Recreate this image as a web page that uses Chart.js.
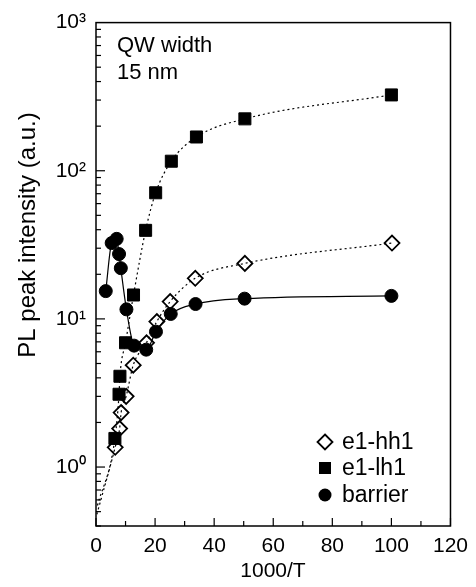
<!DOCTYPE html>
<html>
<head>
<meta charset="utf-8">
<script src="https://cdn.jsdelivr.net/npm/chart.js@4/dist/chart.umd.min.js"></script>
<style>
  html, body { margin: 0; padding: 0; background: #fff; }
  #wrap { width: 476px; height: 587px; }
</style>
</head>
<body>
<div id="wrap"><canvas id="plChart" width="476" height="587"></canvas></div>
<script>
// valores (1000/T contra intensidade PL)
const lhX = [6.4, 7.8, 8.1, 10.0, 12.7, 16.8, 20.2, 25.5, 34.0, 50.4, 100];
const lhY = [1.56, 3.1, 4.1, 6.9, 14.5, 39.6, 71, 116, 169, 224, 325];
const hhX = [6.5, 8.0, 8.5, 10.2, 12.6, 17.1, 20.6, 25.1, 33.6, 50.4, 100.2];
const hhY = [1.36, 1.82, 2.33, 3.0, 4.87, 6.9, 9.6, 13.1, 18.8, 23.7, 32.5];
const barX = [3.3, 5.3, 7.0, 7.8, 8.4, 10.3, 12.9, 17.0, 20.3, 25.3, 33.7, 50.3, 100];
const barY = [15.4, 32.5, 34.7, 27.4, 22.0, 11.6, 6.6, 6.2, 8.2, 10.8, 12.6, 13.7, 14.3];

// início das curvas ajustadas perto da origem
const lhFitStart = [0.5, 0.55];
const hhFitStart = [0.3, 0.48];

const xTicks = [0, 20, 40, 60, 80, 100, 120];
const yDecades = [1, 10, 100, 1000];
const yLabels = ['10\u2070', '10\u00B9', '10\u00B2', '10\u00B3'];

const legendNames = ['e1-hh1', 'e1-lh1', 'barrier'];

function toPoints(xs, ys) {
    return xs.map((x, i) => ({ x: x, y: ys[i] }));
}

const FONT = '"Liberation Sans", Arial, Helvetica, sans-serif';

// Molduras, marcas internas e textos
const framePlugin = {
    id: 'frame',
    afterDraw(chart) {
        const ctx = chart.ctx;
        const a = chart.chartArea;
        const xs = chart.scales.x;
        const ys = chart.scales.y;
        ctx.save();
        ctx.strokeStyle = '#000';
        ctx.lineWidth = 1.5;
        ctx.strokeRect(a.left, a.top, a.right - a.left, a.bottom - a.top);

        // marcas do eixo x
        ctx.lineWidth = 1.2;
        for (let v = 0; v <= 120; v += 10) {
            const px = xs.getPixelForValue(v);
            const len = v % 20 === 0 ? 8 : 5;
            ctx.beginPath();
            ctx.moveTo(px, a.bottom);
            ctx.lineTo(px, a.bottom - len);
            ctx.stroke();
        }
        // marcas do eixo y (log)
        for (let d = -1; d <= 2; d++) {
            for (let m = 1; m <= 9; m++) {
                const v = m * Math.pow(10, d);
                if (v < ys.min || v > ys.max) continue;
                const py = ys.getPixelForValue(v);
                const len = m === 1 ? 9 : 5;
                ctx.beginPath();
                ctx.moveTo(a.left, py);
                ctx.lineTo(a.left + len, py);
                ctx.stroke();
            }
        }

        ctx.fillStyle = '#000';
        ctx.textBaseline = 'alphabetic';
        ctx.textAlign = 'left';
        ctx.font = '22px ' + FONT;
        ctx.fillText('QW width', 117, 52);
        ctx.fillText('15 nm', 117, 79);

        // legenda
        const lx = 325;
        const rows = [442, 468, 495];
        ctx.lineWidth = 1.8;
        // losango
        ctx.beginPath();
        ctx.moveTo(lx, rows[0] - 7.5);
        ctx.lineTo(lx + 7.5, rows[0]);
        ctx.lineTo(lx, rows[0] + 7.5);
        ctx.lineTo(lx - 7.5, rows[0]);
        ctx.closePath();
        ctx.fillStyle = '#fff';
        ctx.fill();
        ctx.stroke();
        ctx.fillStyle = '#000';
        ctx.fillRect(lx - 6, rows[1] - 6, 12, 12);
        ctx.beginPath();
        ctx.arc(lx, rows[2], 6.5, 0, Math.PI * 2);
        ctx.fill();
        ctx.textBaseline = 'middle';
        ctx.font = '23px ' + FONT;
        legendNames.forEach((name, i) => ctx.fillText(name, 342, rows[i] + 1));

        // títulos dos eixos
        ctx.textAlign = 'center';
        ctx.font = '21px ' + FONT;
        ctx.fillText('1000/T', 273, 571);
        ctx.translate(28, 235);
        ctx.rotate(-Math.PI / 2);
        ctx.font = '24px ' + FONT;
        ctx.fillText('PL peak intensity (a.u.)', 0, 0);
        ctx.restore();
    }
};

const ctx = document.getElementById('plChart').getContext('2d');
const myChart = new Chart(ctx, {
    type: 'scatter',
    data: {
        datasets: [
            {
                label: 'e1-lh1 fit',
                data: toPoints([lhFitStart[0]].concat(lhX), [lhFitStart[1]].concat(lhY)),
                showLine: true,
                borderColor: '#000',
                borderWidth: 1.2,
                borderDash: [2, 3],
                pointRadius: 0,
                cubicInterpolationMode: 'monotone',
                fill: false
            },
            {
                label: 'e1-hh1 fit',
                data: toPoints([hhFitStart[0]].concat(hhX), [hhFitStart[1]].concat(hhY)),
                showLine: true,
                borderColor: '#000',
                borderWidth: 1.2,
                borderDash: [2, 3],
                pointRadius: 0,
                cubicInterpolationMode: 'monotone',
                fill: false
            },
            {
                label: 'barrier fit',
                data: toPoints(barX, barY),
                showLine: true,
                borderColor: '#000',
                borderWidth: 1.2,
                pointRadius: 0,
                cubicInterpolationMode: 'monotone',
                fill: false
            },
            {
                label: 'barrier',
                data: toPoints(barX, barY),
                showLine: false,
                pointStyle: 'circle',
                pointRadius: 6.5,
                pointBackgroundColor: '#000',
                pointBorderColor: '#000',
                pointBorderWidth: 1
            },
            {
                label: 'e1-lh1',
                data: toPoints(lhX, lhY),
                showLine: false,
                pointStyle: 'rect',
                pointRadius: 8.5,
                pointBackgroundColor: '#000',
                pointBorderColor: '#000',
                pointBorderWidth: 1
            },
            {
                label: 'e1-hh1',
                data: toPoints(hhX, hhY),
                showLine: false,
                pointStyle: 'rectRot',
                pointRadius: 7.5,
                pointBackgroundColor: '#fff',
                pointBorderColor: '#000',
                pointBorderWidth: 1.8
            }
        ]
    },
    options: {
        responsive: false,
        animation: false,
        layout: { padding: { left: 0, top: 20, right: 24, bottom: 0 } },
        plugins: {
            legend: { display: false },
            tooltip: { enabled: false }
        },
        scales: {
            x: {
                type: 'linear',
                min: 0,
                max: 120,
                afterBuildTicks: (scale) => { scale.ticks = xTicks.map(v => ({ value: v })); },
                afterFit: (scale) => { scale.height = 61; },
                grid: { display: false, drawTicks: false },
                border: { display: false },
                ticks: {
                    color: '#000',
                    padding: 8,
                    maxRotation: 0,
                    autoSkip: false,
                    font: { family: FONT, size: 21 }
                }
            },
            y: {
                type: 'logarithmic',
                min: 0.4,
                max: 1000,
                afterBuildTicks: (scale) => { scale.ticks = yDecades.map(v => ({ value: v })); },
                afterFit: (scale) => { scale.width = 96; },
                grid: { display: false, drawTicks: false },
                border: { display: false },
                ticks: {
                    color: '#000',
                    padding: 10,
                    autoSkip: false,
                    font: { family: FONT, size: 21 },
                    callback: (value) => {
                        const i = yDecades.indexOf(value);
                        return i >= 0 ? yLabels[i] : '';
                    }
                }
            }
        }
    },
    plugins: [framePlugin]
});
</script>
</body>
</html>
